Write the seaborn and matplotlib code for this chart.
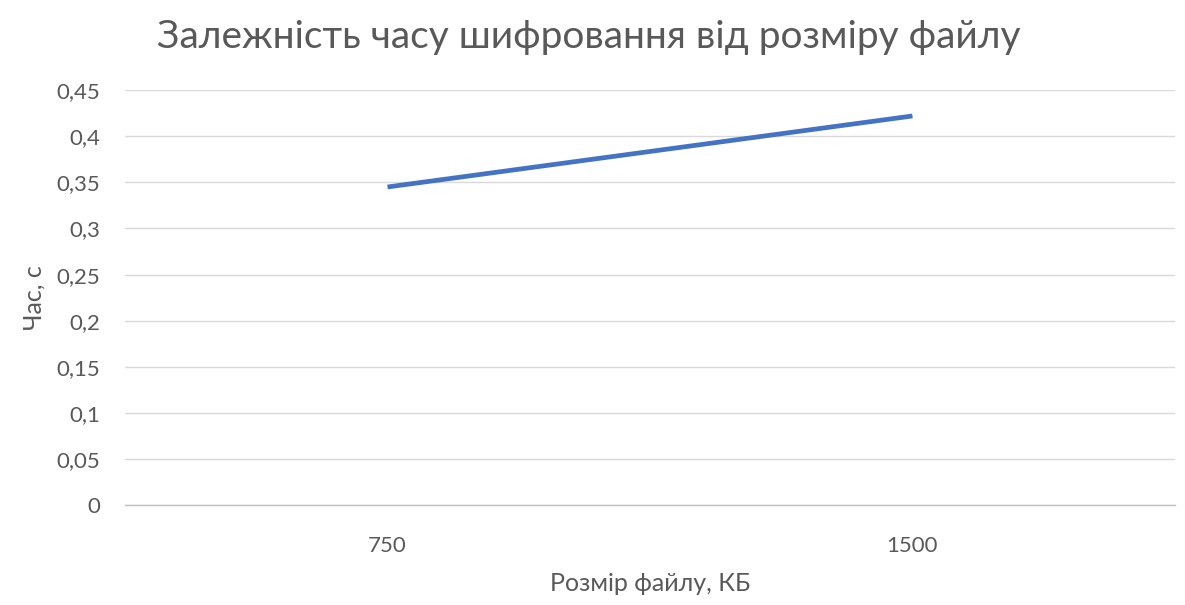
import matplotlib
matplotlib.use("Agg")
import matplotlib.pyplot as plt
import seaborn as sns
import pandas as pd

# Encryption time measurements
file_sizes = ["750", "1500"]
enc_times = [0.345, 0.422]
y_ticks = [0, 0.05, 0.1, 0.15, 0.2, 0.25, 0.3, 0.35, 0.4, 0.45]
y_tick_labels = ["0", "0,05", "0,1", "0,15", "0,2", "0,25", "0,3", "0,35", "0,4", "0,45"]

title = "Залежність часу шифровання від розміру файлу"
x_label = "Розмір файлу, КБ"
y_label = "Час, с"

sns.set_theme(style="white")
plt.rcParams["font.family"] = ["Lato", "DejaVu Sans"]

df = pd.DataFrame({"size": file_sizes, "time": enc_times})

fig = plt.figure(figsize=(11.85, 6.05), dpi=100)
ax = fig.add_axes([0.1055, 0.165, 0.886, 0.686])

sns.lineplot(data=df, x="size", y="time", ax=ax, color="#4472C4",
             linewidth=3.4, solid_capstyle="butt")

ax.set_xlim(-0.5, 1.5)
ax.set_ylim(0, 0.45)
ax.set_yticks(y_ticks)
ax.set_yticklabels(y_tick_labels)
ax.yaxis.grid(True, color="#d9d9d9", linewidth=1)
ax.set_axisbelow(True)
for side in ["left", "right", "top"]:
    ax.spines[side].set_visible(False)
ax.spines["bottom"].set_color("#bfbfbf")
ax.spines["bottom"].set_linewidth(1)
ax.tick_params(axis="both", length=0, labelsize=16, colors="#595959")
ax.tick_params(axis="x", pad=22)
ax.tick_params(axis="y", pad=18)

ax.set_xlabel(x_label, fontsize=18, color="#595959", labelpad=12)
ax.set_ylabel(y_label, fontsize=18, color="#595959", labelpad=8)
fig.suptitle(title, fontsize=28, color="#595959", x=0.497, y=0.968)

fig.savefig("out.png", dpi=100, facecolor="white")
